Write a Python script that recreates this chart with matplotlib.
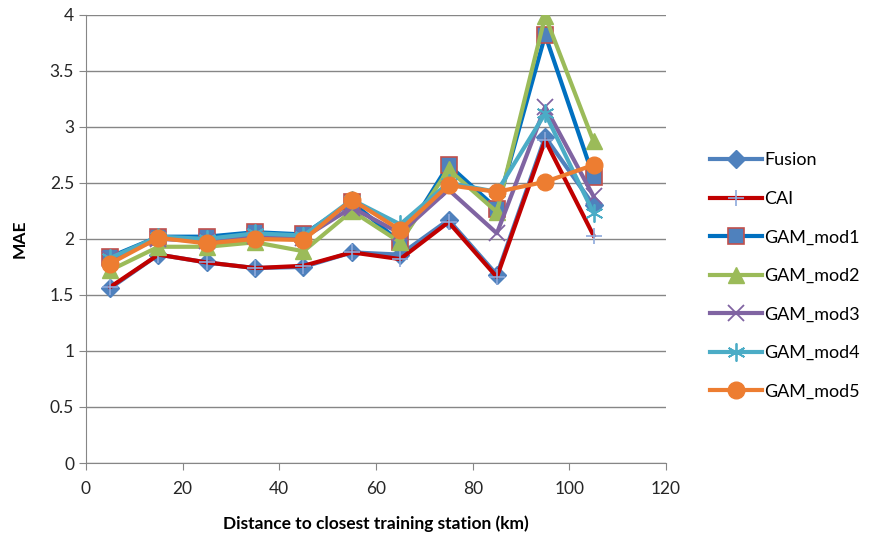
import matplotlib.pyplot as plt

plt.rcParams["font.family"] = ["Lato", "DejaVu Sans"]

distance_km = [5, 15, 25, 35, 45, 55, 65, 75, 85, 95, 105]

fusion = [1.56, 1.86, 1.79, 1.74, 1.75, 1.88, 1.86, 2.17, 1.68, 2.91, 2.30]
cai = [1.57, 1.86, 1.79, 1.74, 1.76, 1.88, 1.82, 2.15, 1.66, 2.88, 2.03]
gam_mod1 = [1.84, 2.02, 2.02, 2.06, 2.04, 2.33, 1.97, 2.66, 2.27, 3.82, 2.55]
gam_mod2 = [1.72, 1.93, 1.93, 1.97, 1.89, 2.25, 1.97, 2.62, 2.24, 3.99, 2.87]
gam_mod3 = [1.82, 2.00, 1.98, 2.03, 2.01, 2.28, 2.05, 2.44, 2.05, 3.18, 2.38]
gam_mod4 = [1.83, 2.02, 2.00, 2.05, 2.03, 2.35, 2.13, 2.50, 2.42, 3.12, 2.23]
gam_mod5 = [1.78, 2.01, 1.96, 2.00, 1.99, 2.35, 2.08, 2.48, 2.42, 2.51, 2.66]

fig = plt.figure(figsize=(8.71, 5.38), dpi=100)
ax = fig.add_axes([0.0987, 0.1394, 0.666, 0.833])

lw = 3.0
ax.plot(distance_km, fusion, color="#4F81BD", lw=lw, marker="D", ms=9,
        mfc="#4F81BD", mec="#4F81BD", label="Fusion", zorder=3)
ax.plot(distance_km, cai, color="#C00000", lw=lw, marker="+", ms=12, mew=1.2,
        mec="#8EA9DB", label="CAI", zorder=4)
ax.plot(distance_km, gam_mod1, color="#0070C0", lw=lw, marker="s", ms=11,
        mfc="#4F81BD", mec="#C0504D", mew=1.2, label="GAM_mod1", zorder=5)
ax.plot(distance_km, gam_mod2, color="#9BBB59", lw=lw, marker="^", ms=12,
        mfc="#9BBB59", mec="#9BBB59", label="GAM_mod2", zorder=6)
ax.plot(distance_km, gam_mod3, color="#8064A2", lw=lw, marker="x", ms=12,
        mew=1.3, mec="#8064A2", label="GAM_mod3", zorder=7)
# six-armed asterisk: an x with a vertical stroke through it
ax.plot(distance_km, gam_mod4, color="#4BACC6", lw=lw, marker=(6, 2, 0), ms=13,
        mec="#4BACC6", mew=1.3, label="GAM_mod4", zorder=8)
ax.plot(distance_km, gam_mod5, color="#ED7D31", lw=lw, marker="o", ms=12,
        mfc="#ED7D31", mec="#ED7D31", label="GAM_mod5", zorder=9)

ax.set_xlim(0, 120)
ax.set_ylim(0, 4)
ax.set_xticks(range(0, 121, 20))
ax.set_yticks([i * 0.5 for i in range(9)])
ax.set_yticklabels(["0", "0.5", "1", "1.5", "2", "2.5", "3", "3.5", "4"])
ax.yaxis.grid(True, color="#868686", lw=1.0)
ax.set_axisbelow(True)
for side in ["top", "right"]:
    ax.spines[side].set_visible(False)
for side in ["left", "bottom"]:
    ax.spines[side].set_color("#868686")
ax.tick_params(axis="both", colors="#868686", labelcolor="#262626",
               labelsize=12.5, length=5, direction="out")
ax.tick_params(axis="x", pad=8)

ax.set_xlabel("Distance to closest training station (km)", fontsize=12.5,
              fontweight="bold", labelpad=13)
ax.set_ylabel("MAE", fontsize=12.5, fontweight="bold", labelpad=16)

fig.legend(loc="center left", bbox_to_anchor=(0.815, 0.487), frameon=False,
           fontsize=13, handlelength=2.9, handletextpad=0.1,
           labelspacing=1.25, borderpad=0, borderaxespad=0)

fig.savefig("out.png", dpi=100)
